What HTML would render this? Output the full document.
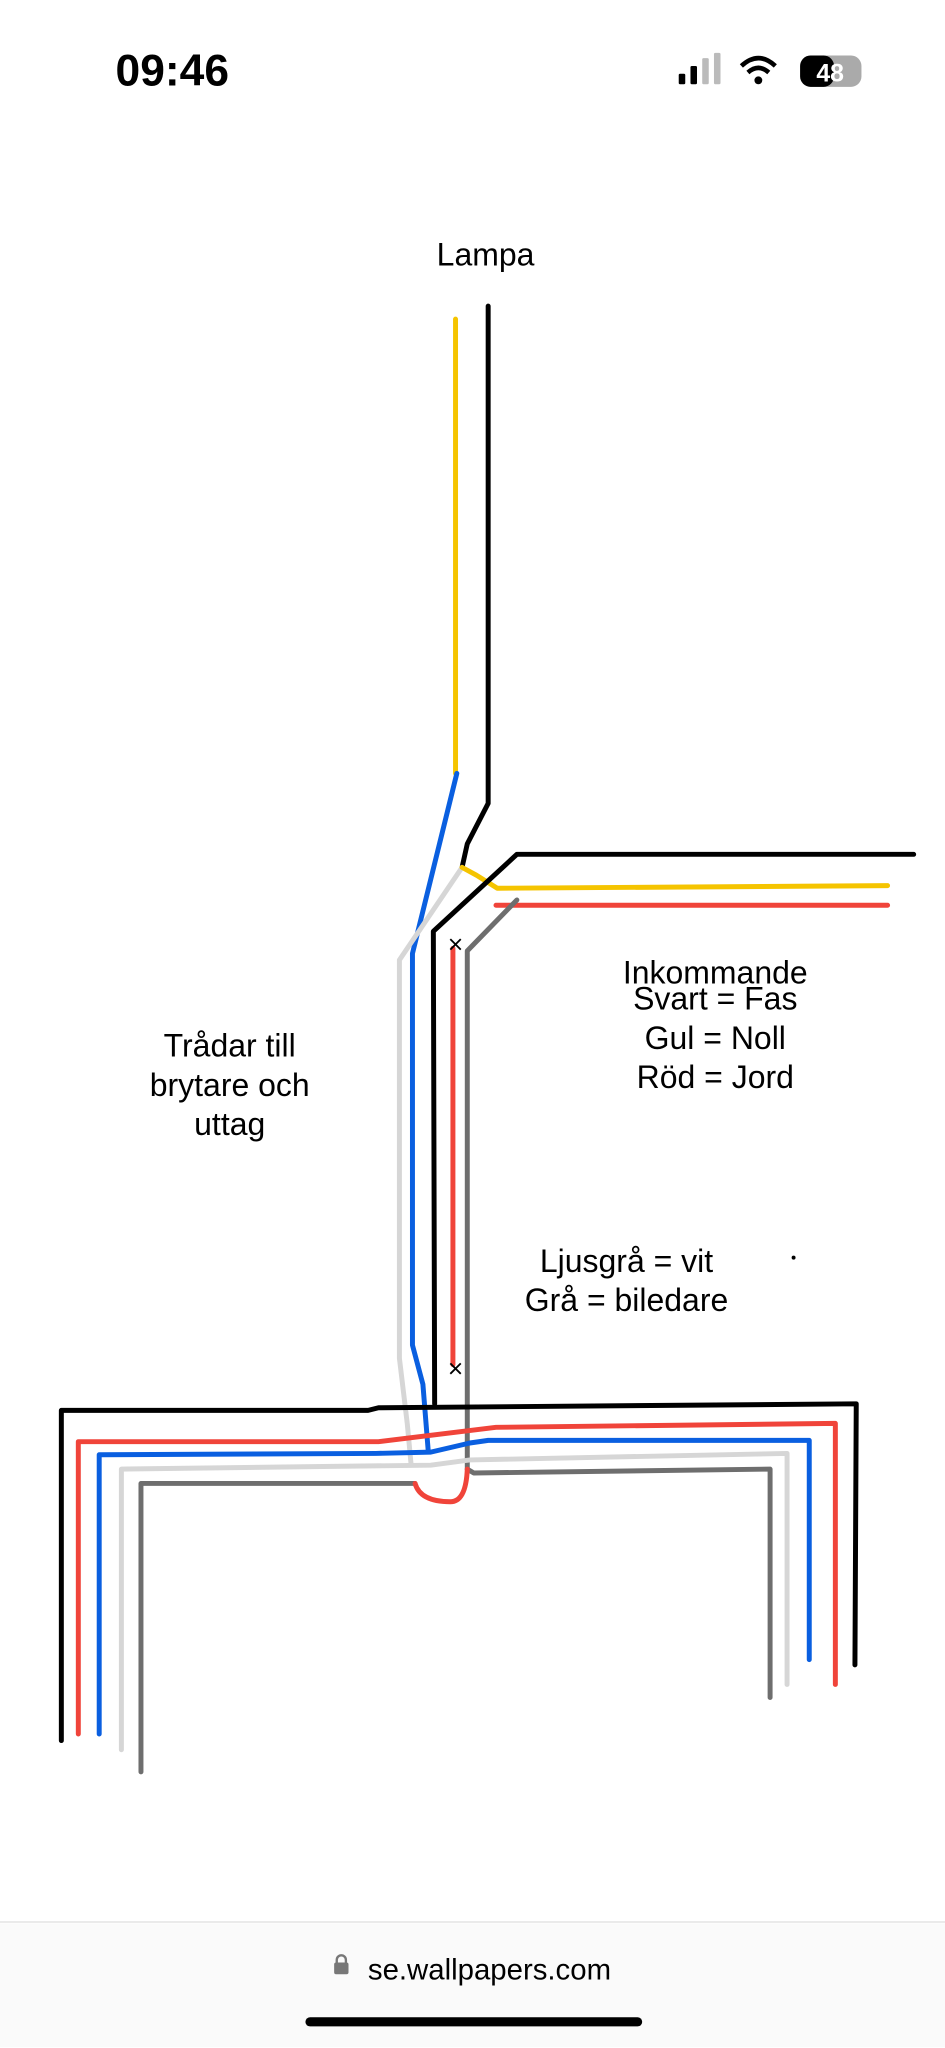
<!DOCTYPE html>
<html><head><meta charset="utf-8"><style>
html,body{margin:0;padding:0;background:#fff;width:945px;height:2048px;overflow:hidden}
svg{display:block}
text{font-family:"Liberation Sans",sans-serif}
</style></head><body>
<svg width="945" height="2048" viewBox="0 0 724 1568" xmlns="http://www.w3.org/2000/svg">
<g fill="none" stroke-width="3.8" stroke-linejoin="round" stroke-linecap="round">
<polyline stroke="#f5c400" points="349,244 349,592"/>
<polyline stroke="#0a5fe0" points="350,592 316,730 316,1030 324,1060 328,1110"/>
<polyline stroke="#000" points="374,234 374,615 358,646 354,664"/>
<polyline stroke="#d6d6d6" points="354,664 306,735 306,1040 312,1090 315,1122"/>
<polyline stroke="#f5c400" points="354,664 365,670 381,680 680,678"/>
<polyline stroke="#000" points="333,1075 332,713 396,654 700,654"/>
<polyline stroke="#f0443a" points="380,693 680,693"/>
<polyline stroke="#6e6e6e" points="396,689 358,728 358,1125"/>
<polyline stroke="#f0443a" points="347,726 347,1045"/>
<polyline stroke="#000" points="47,1333 47,1080 282,1080 290,1078 656,1075 655,1275"/>
<polyline stroke="#f0443a" points="60,1328 60,1104 290,1104 380,1093 640,1090 640,1290"/>
<polyline stroke="#0a5fe0" points="76,1328 76,1114 288,1113 330,1112 360,1105 374,1103 620,1103 620,1271"/>
<polyline stroke="#d6d6d6" points="93,1340 93,1125 330,1122 360,1118 603,1113 603,1290"/>
<polyline stroke="#6e6e6e" points="108,1357 108,1136 318,1136"/>
<polyline stroke="#6e6e6e" points="358,1125 363,1128 590,1125 590,1300"/>
<path stroke="#f0443a" d="M318,1136 Q322,1150 345,1150 Q357,1150 358,1125"/>
</g>
<g stroke="#000" stroke-width="1.4">
<path d="M345,719 l8,8 M353,719 l-8,8 M345,1044 l8,8 M353,1044 l-8,8"/>
</g>
<circle cx="608" cy="963" r="1.5" fill="#000"/>
<g fill="#000" font-size="24.5" text-anchor="middle">
<text x="372" y="203">Lampa</text>
<text x="548" y="753">Inkommande</text>
<text x="548" y="773">Svart = Fas</text>
<text x="548" y="803">Gul = Noll</text>
<text x="548" y="833">Röd = Jord</text>
<text x="176" y="809">Trådar till</text>
<text x="176" y="839">brytare och</text>
<text x="176" y="869">uttag</text>
<text x="480" y="974">Ljusgrå = vit</text>
<text x="480" y="1004">Grå = biledare</text>
</g>
<text x="132" y="65" font-size="34" font-weight="bold" text-anchor="middle">09:46</text>
<g fill="#000"><rect x="520" y="56" width="5" height="8" rx="1"/><rect x="529" y="50" width="5" height="14" rx="1"/><rect x="538" y="44" width="5" height="20" rx="1" fill="#bbb"/><rect x="547" y="40" width="5" height="24" rx="1" fill="#bbb"/></g>
<path d="M568,50 Q581,38 594,50 M573,55 Q581,48 589,55" stroke="#000" stroke-width="3.5" fill="none"/><circle cx="581" cy="61" r="3" fill="#000"/>
<rect x="613" y="42" width="47" height="24" rx="8" fill="#aaa"/><rect x="613" y="42" width="26" height="24" rx="8" fill="#000"/>
<text x="636" y="62" font-size="19" font-weight="bold" fill="#fff" text-anchor="middle">48</text>
<line x1="0" y1="1472" x2="724" y2="1472" stroke="#ddd" stroke-width="1"/>
<rect x="0" y="1473" width="724" height="95" fill="#fafafa"/>
<rect x="256" y="1503" width="11" height="9" rx="1.5" fill="#777"/><path d="M258,1504 v-3 a3.5,3.5 0 0 1 7,0 v3" stroke="#777" stroke-width="1.8" fill="none"/>
<text x="375" y="1516" font-size="22.5" text-anchor="middle" fill="#000">se.wallpapers.com</text>
<rect x="234" y="1545" width="258" height="7" rx="3.5" fill="#000"/>
</svg>
</body></html>
